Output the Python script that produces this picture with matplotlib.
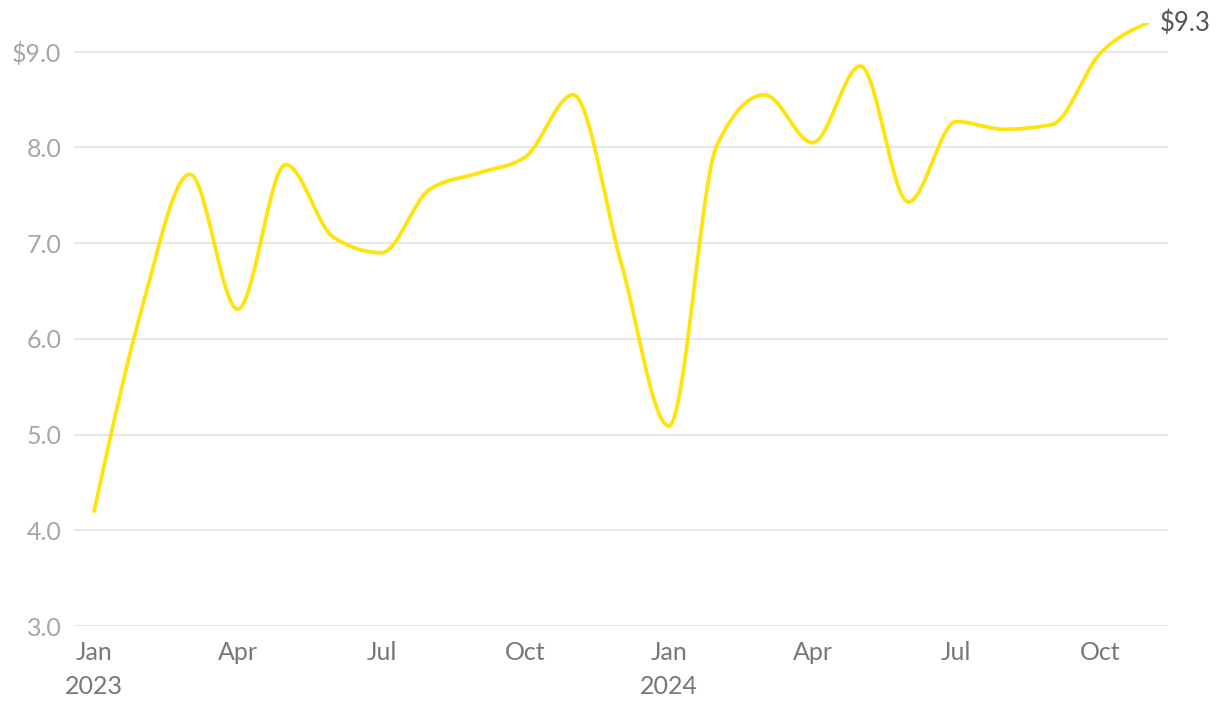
import matplotlib
matplotlib.use("Agg")
import matplotlib.pyplot as plt
import numpy as np

# monthly values, Jan 2023 .. Nov 2024
months = ["2023-01", "2023-02", "2023-03", "2023-04", "2023-05", "2023-06",
          "2023-07", "2023-08", "2023-09", "2023-10", "2023-11", "2023-12",
          "2024-01", "2024-02", "2024-03", "2024-04", "2024-05", "2024-06",
          "2024-07", "2024-08", "2024-09", "2024-10", "2024-11"]
values = [4.20, 6.32, 7.72, 6.31, 7.82, 7.06, 6.90, 7.56, 7.73, 7.90, 8.55, 6.80,
          5.09, 8.02, 8.55, 8.05, 8.85, 7.43, 8.27, 8.19, 8.24, 8.98, 9.30]

tick_pos = [0, 3, 6, 9, 12, 15, 18, 21]
tick_labels = ["Jan\n2023", "Apr", "Jul", "Oct", "Jan\n2024", "Apr", "Jul", "Oct"]
y_ticks = [3, 4, 5, 6, 7, 8, 9]
y_labels = ["3.0", "4.0", "5.0", "6.0", "7.0", "8.0", "$9.0"]


def monotone_x(x, y, n=40):
    # same idea as d3.curveMonotoneX
    x = np.asarray(x, float)
    y = np.asarray(y, float)
    h = np.diff(x)
    s = np.diff(y) / h
    t = np.zeros_like(y)
    for i in range(1, len(y) - 1):
        h0, h1, s0, s1 = h[i - 1], h[i], s[i - 1], s[i]
        p = (s0 * h1 + s1 * h0) / (h0 + h1)
        t[i] = (np.sign(s0) + np.sign(s1)) * min(abs(s0), abs(s1), 0.5 * abs(p))
    t[0] = (3 * s[0] - t[1]) / 2
    t[-1] = (3 * s[-1] - t[-2]) / 2
    xs, ys = [], []
    for i in range(len(x) - 1):
        u = np.linspace(0, 1, n)
        dx = h[i]
        y0, y1 = y[i], y[i + 1]
        c1 = y0 + t[i] * dx / 3
        c2 = y1 - t[i + 1] * dx / 3
        yy = (1 - u) ** 3 * y0 + 3 * (1 - u) ** 2 * u * c1 + 3 * (1 - u) * u ** 2 * c2 + u ** 3 * y1
        xs.append(x[i] + u * dx)
        ys.append(yy)
    return np.concatenate(xs), np.concatenate(ys)


plt.rcParams["font.family"] = ["Lato", "DejaVu Sans"]

fig = plt.figure(figsize=(12.2, 7.12), dpi=100)
ax = fig.add_axes([74 / 1220, 86 / 712, 1094 / 1220, 603 / 712])

xi = np.arange(len(values))
sx, sy = monotone_x(xi, values)
ax.plot(sx, sy, color="#FFE30A", lw=2.7, solid_capstyle="round", zorder=3)

ax.text(xi[-1] + 0.25, values[-1], "$%.1f" % values[-1], fontsize=18.5,
        color="#555555", va="center", ha="left", clip_on=False)

ax.set_xlim(-0.42, len(values) - 1 + 0.42)
ax.set_ylim(3, 9.3)
ax.set_yticks(y_ticks)
ax.set_yticklabels(y_labels)
ax.set_xticks(tick_pos)
ax.set_xticklabels(tick_labels)
ax.tick_params(axis="y", length=0, pad=9, labelsize=18, labelcolor="#a6a6a6")
ax.tick_params(axis="x", length=0, pad=11, labelsize=18, labelcolor="#777777")
for lbl in ax.get_xticklabels():
    lbl.set_linespacing(1.55)
ax.grid(axis="y", color="#e3e3e3", lw=1.2)
ax.set_axisbelow(True)
for sp in ax.spines.values():
    sp.set_visible(False)

fig.savefig("out.png", dpi=100)
